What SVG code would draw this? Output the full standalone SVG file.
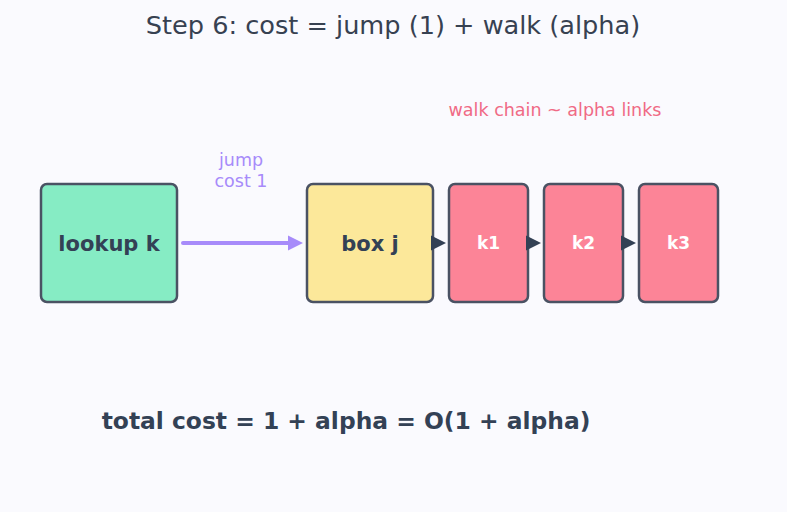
<svg xmlns="http://www.w3.org/2000/svg" width="787" height="512" viewBox="0 0 787 512">
<defs>
<style>
text{font-family:"DejaVu Sans","Liberation Sans",sans-serif;}
.box{stroke:#4a5263;stroke-width:2.5;}
.lbl{font-size:21px;font-weight:bold;fill:#334155;text-anchor:middle;}
.wl{font-size:17px;font-weight:bold;fill:#ffffff;text-anchor:middle;}
.sm{font-size:17.5px;text-anchor:middle;}
</style>
</defs>
<rect width="787" height="512" fill="#fafafe"/>
<text x="393" y="34" font-size="25.6" fill="#374151" text-anchor="middle">Step 6: cost = jump (1) + walk (alpha)</text>
<text class="sm" x="555" y="116" fill="#f06a85">walk chain ~ alpha links</text>
<text class="sm" x="241" y="166" fill="#a78bfa">jump</text>
<text class="sm" x="241" y="187" fill="#a78bfa">cost 1</text>
<g id="lookup"><rect class="box" x="41" y="184" width="136" height="118" rx="6" fill="#86ecc4"/><text class="lbl" x="109" y="250.5">lookup k</text></g>
<g id="boxj"><rect class="box" x="307" y="184" width="126" height="118" rx="6" fill="#fce89a"/><text class="lbl" x="370" y="250.5">box j</text></g>
<g id="k1"><rect class="box" x="449" y="184" width="79" height="118" rx="6" fill="#fc8497"/><text class="wl" x="488.5" y="249">k1</text></g>
<g id="k2"><rect class="box" x="544" y="184" width="79" height="118" rx="6" fill="#fc8497"/><text class="wl" x="583.5" y="249">k2</text></g>
<g id="k3"><rect class="box" x="639" y="184" width="79" height="118" rx="6" fill="#fc8497"/><text class="wl" x="678.5" y="249">k3</text></g>
<g id="connectors">
<line x1="183" y1="243" x2="292" y2="243" stroke="#a78bfa" stroke-width="4" stroke-linecap="round"/>
<path d="M288,235.5 L303,243 L288,250.5 Z" fill="#a78bfa"/>
<path d="M431,235.5 L446,243 L431,250.5 Z" fill="#334155"/>
<path d="M526,235.5 L541,243 L526,250.5 Z" fill="#334155"/>
<path d="M621,235.5 L636,243 L621,250.5 Z" fill="#334155"/>
</g>
<text x="346" y="428.5" font-size="23.4" font-weight="bold" fill="#334155" text-anchor="middle">total cost = 1 + alpha = O(1 + alpha)</text>
</svg>
